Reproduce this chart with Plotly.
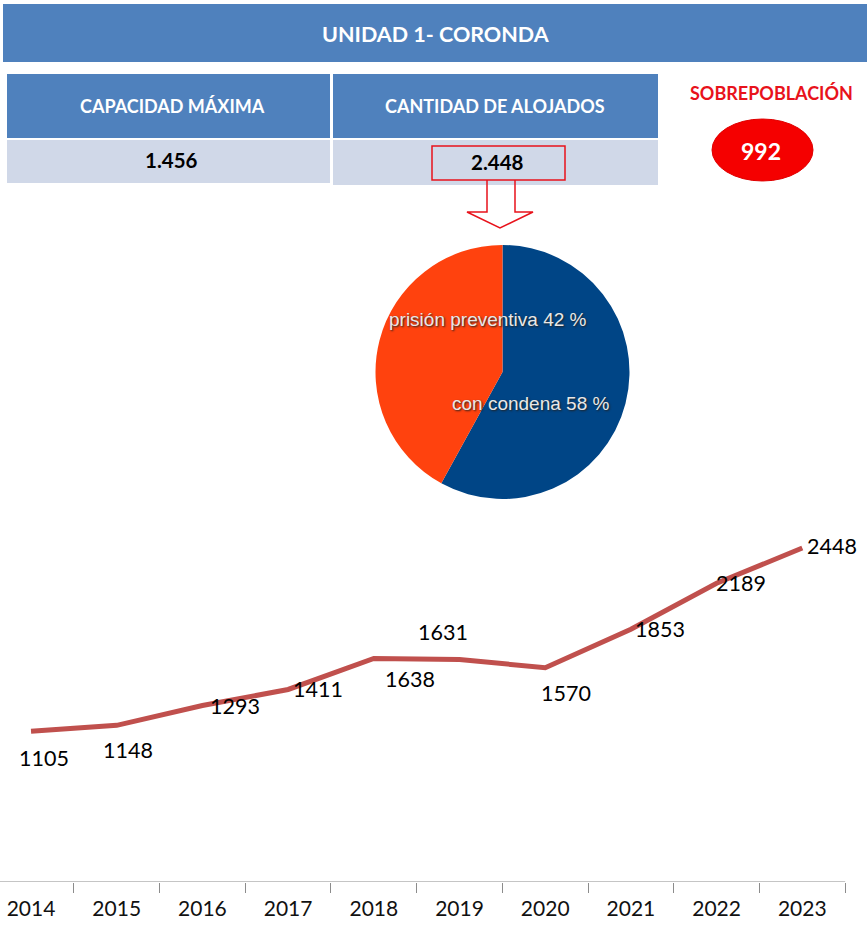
import plotly.graph_objects as go

W, H = 867, 930

# ---------------- data ----------------
years = [str(y) for y in range(2014, 2024)]
alojados = [1105, 1148, 1293, 1411, 1638, 1631, 1570, 1853, 2189, 2448]
pie_labels = ["con condena", "prisión preventiva"]
pie_values = [58, 42]
pie_colors = ["#004586", "#FF420E"]
title_text = "UNIDAD 1- CORONDA"
table_headers = ["CAPACIDAD MÁXIMA", "CANTIDAD DE ALOJADOS"]
table_values = ["1.456", "2.448"]
sobre_label = "SOBREPOBLACIÓN"
sobre_value = "992"

# label offsets (pixels) for the line values: (dx, dy down)
label_offsets = [(13, 27), (11, 25), (33, 0), (30, 0), (36, 20),
                 (-17, -27), (21, 25), (29, 0), (24, 0), (30, -2)]


def px(x):
    return x / W


def py(y):
    return 1 - y / H


BLUE = "#4F81BD"
LIGHT = "#D0D8E8"
RED = "#E8121B"
FONT = "Lato"

fig = go.Figure()

# line chart
fig.add_trace(go.Scatter(
    x=years, y=alojados, mode="lines",
    line=dict(color="#C0504D", width=5),
    hoverinfo="x+y", showlegend=False,
))

# pie chart
fig.add_trace(go.Pie(
    labels=pie_labels, values=pie_values, sort=False,
    direction="clockwise", rotation=0,
    marker=dict(colors=pie_colors, line=dict(width=0)),
    textinfo="none", showlegend=False,
    domain=dict(x=[px(375), px(630)], y=[py(499), py(245)]),
))

shapes = []
# title bar
shapes.append(dict(type="rect", xref="paper", yref="paper",
                   x0=px(3), x1=px(867), y0=py(62), y1=py(4),
                   fillcolor=BLUE, line=dict(width=0), layer="below"))
# table header cells
for (x0, x1) in [(7, 330), (333, 658)]:
    shapes.append(dict(type="rect", xref="paper", yref="paper",
                       x0=px(x0), x1=px(x1), y0=py(138), y1=py(74),
                       fillcolor=BLUE, line=dict(width=0), layer="below"))
shapes.append(dict(type="rect", xref="paper", yref="paper",
                   x0=px(7), x1=px(330), y0=py(183), y1=py(140),
                   fillcolor=LIGHT, line=dict(width=0), layer="below"))
shapes.append(dict(type="rect", xref="paper", yref="paper",
                   x0=px(333), x1=px(658), y0=py(185), y1=py(140),
                   fillcolor=LIGHT, line=dict(width=0), layer="below"))
# red box around value
shapes.append(dict(type="rect", xref="paper", yref="paper",
                   x0=px(432), x1=px(565), y0=py(180), y1=py(146),
                   fillcolor="rgba(0,0,0,0)", line=dict(color=RED, width=1.5)))
# hollow arrow
pts = [(487, 180), (487, 212), (467, 212), (500, 228), (533, 212), (515, 212), (515, 180)]
path = "M " + " L ".join(f"{px(x):.5f},{py(y):.5f}" for x, y in pts)
shapes.append(dict(type="path", xref="paper", yref="paper", path=path,
                   fillcolor="rgba(0,0,0,0)", line=dict(color=RED, width=1.5)))
# red oval
shapes.append(dict(type="circle", xref="paper", yref="paper",
                   x0=px(712), x1=px(813), y0=py(181), y1=py(119),
                   fillcolor="#F50000", line=dict(color="#E00000", width=1)))
# x axis line
shapes.append(dict(type="line", xref="x", yref="y",
                   x0=-0.5, x1=9.5, y0=0, y1=0,
                   line=dict(color="#8C8C8C", width=1.2)))

annotations = []


def ann(x, y, text, font, **kw):
    d = dict(xref="paper", yref="paper", x=px(x), y=py(y), text=text,
             showarrow=False, xanchor="center", yanchor="middle", font=font)
    d.update(kw)
    annotations.append(d)


ann(436, 34, f"<b>{title_text}</b>", dict(family=FONT, size=21.5, color="white"))
for cx, txt in zip([172, 495], table_headers):
    ann(cx, 106, f"<b>{txt}</b>", dict(family=FONT, size=18, color="white"))
for cx, cy, txt in zip([171, 497], [160, 162], table_values):
    ann(cx, cy, f"<b>{txt}</b>", dict(family=FONT, size=20.5, color="black"))
ann(771, 93, f"<b>{sobre_label}</b>", dict(family=FONT, size=18, color=RED))
ann(761, 151, f"<b>{sobre_value}</b>", dict(family=FONT, size=23, color="white"))

# pie labels
pie_label_pos = {"con condena": (531, 404), "prisión preventiva": (488, 319)}
for lab, val in zip(pie_labels, pie_values):
    cx, cy = pie_label_pos[lab]
    ann(cx, cy, f"{lab} {val} %",
        dict(family="Liberation Sans", size=19, color="#E8E8E8", shadow="1px 1px 2px #222"))

# line value labels
for i, (v, (dx, dy)) in enumerate(zip(alojados, label_offsets)):
    annotations.append(dict(xref="x", yref="y", x=i, y=v, text=str(v),
                            showarrow=False, xshift=dx, yshift=-dy,
                            xanchor="center", yanchor="middle",
                            font=dict(family=FONT, size=21.5, color="#000000")))

fig.update_layout(
    width=W, height=H,
    margin=dict(l=0, r=0, t=0, b=0),
    paper_bgcolor="white", plot_bgcolor="white",
    shapes=shapes, annotations=annotations,
    xaxis=dict(type="category", range=[-0.362, 9.755], showgrid=False,
               zeroline=False, showline=False, ticks="outside",
               tickson="boundaries", ticklen=10, tickcolor="#8C8C8C",
               ticklabelstandoff=12,
               tickfont=dict(family=FONT, size=21, color="#111111"),
               fixedrange=True),
    yaxis=dict(domain=[py(882), py(520)], range=[0, 2653], visible=False,
               fixedrange=True),
)

fig.write_html("out.html", config={"displayModeBar": False},
               post_script="document.body.style.margin='0px';")
